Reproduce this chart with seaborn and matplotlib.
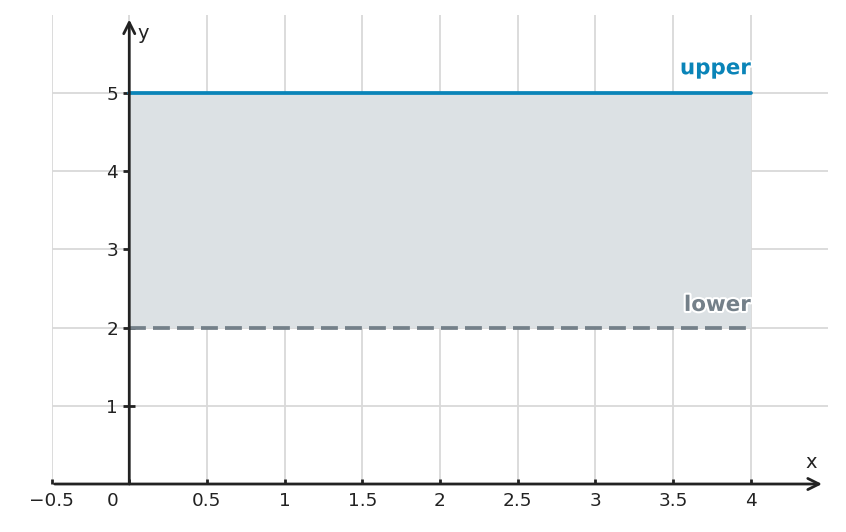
import matplotlib
matplotlib.use("Agg")
import matplotlib.pyplot as plt
import matplotlib.patheffects as pe
import numpy as np
import pandas as pd
import seaborn as sns

# data
x_vals = [0, 4]
upper_vals = [5, 5]
lower_vals = [2, 2]
x_ticks = [-0.5, 0, 0.5, 1, 1.5, 2, 2.5, 3, 3.5, 4]
x_labels = ["\u22120.5", "", "0.5", "1", "1.5", "2", "2.5", "3", "3.5", "4"]
y_ticks = [1, 2, 3, 4, 5]

upper_color = "#0a84b8"
lower_color = "#748089"
axis_color = "#222222"

sns.set_theme(style="whitegrid")
plt.rcParams["font.family"] = ["DejaVu Sans"]

df = pd.DataFrame({"x": x_vals, "upper": upper_vals, "lower": lower_vals})

fig = plt.figure(figsize=(8.46, 5.32), dpi=100)
ax = fig.add_axes([0.061, 0.0902, 0.918, 0.882])

ax.fill_between(df["x"], df["lower"], df["upper"], color="#dce1e4", zorder=1, linewidth=0)
sns.lineplot(data=df, x="x", y="upper", ax=ax, color=upper_color, linewidth=2.7, zorder=3)
sns.lineplot(data=df, x="x", y="lower", ax=ax, color=lower_color, linewidth=2.7,
             linestyle=(0, (4.5, 1.9)), zorder=3)

ax.set_xlim(-0.5, 4.5)
ax.set_ylim(0, 6)
ax.set_xlabel("")
ax.set_ylabel("")

for s in ax.spines.values():
    s.set_visible(False)
ax.spines["left"].set_position(("data", 0))
ax.spines["bottom"].set_position(("data", 0))

ax.grid(True, color="#d9d9d9", linewidth=1.3)
ax.set_axisbelow(True)

ax.set_xticks(x_ticks)
ax.set_xticklabels(x_labels)
ax.set_yticks(y_ticks)
ax.tick_params(axis="x", direction="in", length=3.5, width=2, color=axis_color,
               labelsize=13.3, pad=6, labelcolor=axis_color, bottom=True)
ax.tick_params(axis="y", direction="inout", length=8, width=2, color=axis_color,
               labelsize=13.3, pad=4, labelcolor=axis_color, left=True)

# zero label shifted left of the y axis
ax.annotate("0", xy=(0, 0), xytext=(-12, -6), textcoords="offset points",
            ha="center", va="top", fontsize=13.3, color=axis_color)

# axes with arrows
ax.annotate("", xy=(4.46, 0), xytext=(-0.48, 0),
            arrowprops=dict(arrowstyle="->", color=axis_color, lw=2,
                            mutation_scale=20, shrinkA=0, shrinkB=0), zorder=4)
ax.annotate("", xy=(0, 5.94), xytext=(0, 0),
            arrowprops=dict(arrowstyle="->", color=axis_color, lw=2,
                            mutation_scale=20, shrinkA=0, shrinkB=0), zorder=4)
ax.text(4.39, 0.27, "x", ha="center", va="center", fontsize=14, color=axis_color)
ax.text(0.09, 5.76, "y", ha="center", va="center", fontsize=14, color=axis_color)

# series labels
ax.annotate("upper", xy=(x_vals[-1], upper_vals[-1]), xytext=(0, 13.5),
            textcoords="offset points", ha="right", va="baseline",
            fontsize=15.4, fontweight="bold", color=upper_color,
            path_effects=[pe.withStroke(linewidth=3, foreground="white")])
ax.annotate("lower", xy=(x_vals[-1], lower_vals[-1]), xytext=(0, 12),
            textcoords="offset points", ha="right", va="baseline",
            fontsize=15.4, fontweight="bold", color=lower_color,
            path_effects=[pe.withStroke(linewidth=3, foreground="white")])

fig.savefig("out.png", dpi=100)
